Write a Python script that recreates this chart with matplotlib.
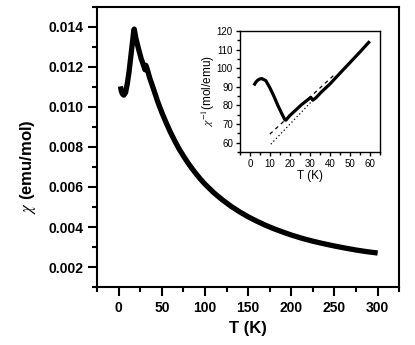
import matplotlib
matplotlib.use("Agg")
import matplotlib.pyplot as plt
from matplotlib.ticker import MultipleLocator, FormatStrFormatter

plt.rcParams['font.family'] = ['Liberation Sans', 'DejaVu Sans']
plt.rcParams['mathtext.fontset'] = 'stix'

# main panel: chi(T)
T_main = [2, 3, 4, 5, 6, 8, 10, 12, 14, 16, 17.5, 18, 20, 23, 26, 29, 30.5, 31.5,
          33, 36, 40, 45, 50, 55, 60, 65, 70, 75, 80, 85, 90, 95, 100, 110, 120,
          130, 140, 150, 160, 170, 180, 190, 200, 212, 225, 237, 250, 262, 275,
          287, 300]
chi_main = [0.01103, 0.01081, 0.01068, 0.01062, 0.01059, 0.01072, 0.01117, 0.01176,
            0.01250, 0.01325, 0.01383, 0.01389, 0.01342, 0.01290, 0.01242, 0.01205,
            0.01186, 0.01208, 0.01190, 0.01144, 0.01094, 0.01029, 0.00972, 0.00921,
            0.00873, 0.00830, 0.00790, 0.00755, 0.00722, 0.00692, 0.00664, 0.00638,
            0.00614, 0.00572, 0.00536, 0.00504, 0.00476, 0.00451, 0.00429, 0.00409,
            0.00391, 0.00375, 0.00360, 0.00344, 0.00329, 0.00317, 0.00305, 0.00295,
            0.00285, 0.00277, 0.00270]

# inset: inverse susceptibility
T_inset = [2, 3, 4, 5, 6, 8, 10, 12, 14, 16, 17.5, 18, 20, 23, 26, 29, 30.5, 31.5,
           33, 36, 40, 45, 50, 55, 60]
inv_inset = [90.7, 92.5, 93.6, 94.2, 94.4, 93.3, 89.5, 85.0, 80.0, 75.5, 72.3, 72.0,
             74.5, 77.5, 80.5, 83.0, 84.3, 82.8, 84.0, 87.4, 91.4, 97.2, 102.9,
             108.6, 114.5]

# guide lines in the inset
dash_T = [10, 42]
dash_inv = [64.5, 96.2]
dot_T = [10.5, 31.5]
dot_inv = [59.1, 82.8]

fig = plt.figure(figsize=(4.15, 3.45), dpi=100)
ax = fig.add_axes([0.234, 0.168, 0.728, 0.812])

ax.plot(T_main, chi_main, color='black', lw=3.8, solid_capstyle='butt',
        solid_joinstyle='round')
ax.set_xlim(-25, 325)
ax.set_ylim(0.001, 0.015)

ax.xaxis.set_major_locator(MultipleLocator(50))
ax.xaxis.set_minor_locator(MultipleLocator(25))
ax.yaxis.set_major_locator(MultipleLocator(0.002))
ax.yaxis.set_minor_locator(MultipleLocator(0.001))
ax.yaxis.set_major_formatter(FormatStrFormatter('%.3f'))

for s in ax.spines.values():
    s.set_linewidth(1.5)
ax.tick_params(which='major', direction='out', length=6.5, width=1.5,
               labelsize=10)
ax.tick_params(which='minor', direction='out', length=3.5, width=1.5)
for lab in ax.get_xticklabels() + ax.get_yticklabels():
    lab.set_fontweight('bold')

ax.set_xlabel('T (K)', fontsize=12, fontweight='bold')
ax.set_ylabel(r'$\chi$ (emu/mol)', fontsize=12, fontweight='bold')
ax.xaxis.set_label_coords(0.5, -0.12)
ax.yaxis.set_label_coords(-0.195, 0.43)

# inset
axi = fig.add_axes([0.578, 0.560, 0.337, 0.350])
axi.plot(dot_T, dot_inv, color='black', lw=0.9, linestyle=(0, (1, 2)))
axi.plot(dash_T, dash_inv, color='black', lw=0.9, linestyle=(0, (3, 3)))
axi.plot(T_inset, inv_inset, color='black', lw=2.3, solid_capstyle='butt',
         solid_joinstyle='round')
axi.set_xlim(-5, 65)
axi.set_ylim(55, 120)
axi.xaxis.set_major_locator(MultipleLocator(10))
axi.xaxis.set_minor_locator(MultipleLocator(5))
axi.yaxis.set_major_locator(MultipleLocator(10))
axi.yaxis.set_minor_locator(MultipleLocator(5))
for s in axi.spines.values():
    s.set_linewidth(1.0)
axi.tick_params(which='major', direction='out', length=3, width=1.0,
                labelsize=7, pad=2)
axi.tick_params(which='minor', direction='out', length=2, width=1.0)
axi.set_xlabel('T (K)', fontsize=8.5)
axi.set_ylabel(r'$\chi^{-1}$(mol/emu)', fontsize=8.5)
axi.xaxis.set_label_coords(0.5, -0.15)
axi.yaxis.set_label_coords(-0.165, 0.5)

fig.savefig('out.png', dpi=100)
